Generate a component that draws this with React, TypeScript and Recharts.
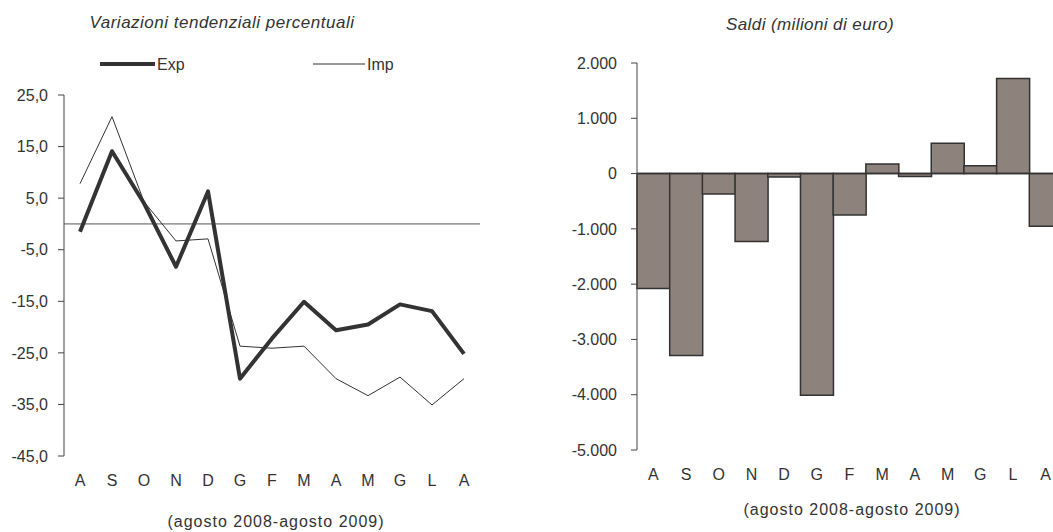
import React from 'react';
import { LineChart, Line, XAxis, YAxis, ReferenceLine, BarChart, Bar } from 'recharts';

const months = ['A', 'S', 'O', 'N', 'D', 'G', 'F', 'M', 'A', 'M', 'G', 'L', 'A'];
const expValues = [-1.5, 14.1, 4.0, -8.3, 6.3, -30.0, -22.2, -15.1, -20.6, -19.5, -15.6, -16.9, -25.2];
const impValues = [7.8, 20.8, 4.3, -3.3, -2.9, -23.7, -24.1, -23.7, -30.0, -33.3, -29.7, -35.1, -30.0];
const saldiValues = [-2080, -3290, -370, -1230, -60, -4010, -750, 175, -55, 548, 140, 1718, -953];
const leftTicks = [25, 15, 5, -5, -15, -25, -35, -45];
const rightTicks = [2000, 1000, 0, -1000, -2000, -3000, -4000, -5000];

const lineData = months.map((m, i) => ({ i, m, exp: expValues[i], imp: impValues[i] }));
const barData = months.map((m, i) => ({ i, m, saldo: saldiValues[i] }));

const fmtPct = (v: number) => v.toFixed(1).replace('.', ',');
const fmtThousands = (v: number) => {
  const s = Math.abs(v).toString().replace(/\B(?=(\d{3})+(?!\d))/g, '.');
  return (v < 0 ? '-' : '') + s;
};

const FONT = '"Liberation Sans", Arial, Helvetica, sans-serif';
const TEXT = '#333333';
const tickStyle = { fill: TEXT, fontSize: 16, fontFamily: FONT };

const abs = (o: React.CSSProperties): React.CSSProperties => ({ position: 'absolute', fontFamily: FONT, color: TEXT, whiteSpace: 'nowrap', ...o });

export default function App() {
  return (
    <div style={{ position: 'fixed', left: 0, top: 0, width: 1053, height: 532, overflow: 'hidden', background: '#fff' }}>
      <div style={abs({ left: 222, top: 13, transform: 'translateX(-50%)', fontSize: 17, lineHeight: '20px', fontStyle: 'italic', letterSpacing: 0.5 })}>
        Variazioni tendenziali percentuali
      </div>
      <svg style={{ position: 'absolute', left: 0, top: 50 }} width={500} height={30}>
        <line x1={100} x2={155} y1={14} y2={14} stroke="#333" strokeWidth={4} />
        <text x={157} y={19.5} fontSize={16} fontFamily={FONT} fill={TEXT}>Exp</text>
        <line x1={313} x2={365} y1={14} y2={14} stroke="#333" strokeWidth={1} />
        <text x={367} y={19.5} fontSize={16} fontFamily={FONT} fill={TEXT}>Imp</text>
      </svg>
      <div style={{ position: 'absolute', left: 0, top: 0 }}>
        <LineChart width={500} height={532} data={lineData} margin={{ top: 95, right: 20, bottom: 46, left: 0 }}>
          <XAxis
            dataKey="i"
            type="category"
            tickFormatter={(v: number) => months[v]}
            axisLine={false}
            tickLine={false}
            tickSize={6}
            tickMargin={13}
            padding={{ left: 16, right: 16 }}
            height={30}
            tick={tickStyle}
            interval={0}
          />
          <YAxis
            width={64}
            domain={[-45, 25]}
            ticks={leftTicks}
            tickFormatter={fmtPct}
            tick={tickStyle}
            tickSize={6}
            tickMargin={10}
            stroke="#444"
            allowDataOverflow
            interval={0}
          />
          <ReferenceLine y={0} stroke="#555" strokeWidth={1} />
          <Line type="linear" dataKey="imp" stroke="#333" strokeWidth={1} dot={false} isAnimationActive={false} />
          <Line type="linear" dataKey="exp" stroke="#333" strokeWidth={4} dot={false} isAnimationActive={false} strokeLinejoin="round" />
        </LineChart>
      </div>
      <div style={abs({ left: 276, top: 513, transform: 'translateX(-50%)', fontSize: 16, lineHeight: '18px', letterSpacing: 1 })}>
        (agosto 2008-agosto 2009)
      </div>

      <div style={abs({ left: 810, top: 15, transform: 'translateX(-50%)', fontSize: 17, lineHeight: '20px', fontStyle: 'italic', letterSpacing: 0.4 })}>
        Saldi (milioni di euro)
      </div>
      <div style={{ position: 'absolute', left: 540, top: 0 }}>
        <BarChart width={540} height={532} data={barData} margin={{ top: 63, right: 18, bottom: 52, left: 0 }} barCategoryGap={0}>
          <XAxis
            dataKey="i"
            type="category"
            tickFormatter={(v: number) => months[v]}
            axisLine={false}
            tickLine={false}
            tickSize={6}
            tickMargin={13}
            height={30}
            tick={tickStyle}
            interval={0}
          />
          <YAxis
            width={97}
            domain={[-5000, 2000]}
            ticks={rightTicks}
            tickFormatter={fmtThousands}
            tick={tickStyle}
            tickSize={6}
            tickMargin={14}
            stroke="#444"
            interval={0}
          />
          <Bar dataKey="saldo" fill="#8e827c" stroke="#333" strokeWidth={1.5} isAnimationActive={false} />
          <ReferenceLine y={0} stroke="#333" strokeWidth={1.5} />
        </BarChart>
      </div>
      <div style={abs({ left: 852, top: 501, transform: 'translateX(-50%)', fontSize: 16, lineHeight: '18px', letterSpacing: 1 })}>
        (agosto 2008-agosto 2009)
      </div>
    </div>
  );
}
